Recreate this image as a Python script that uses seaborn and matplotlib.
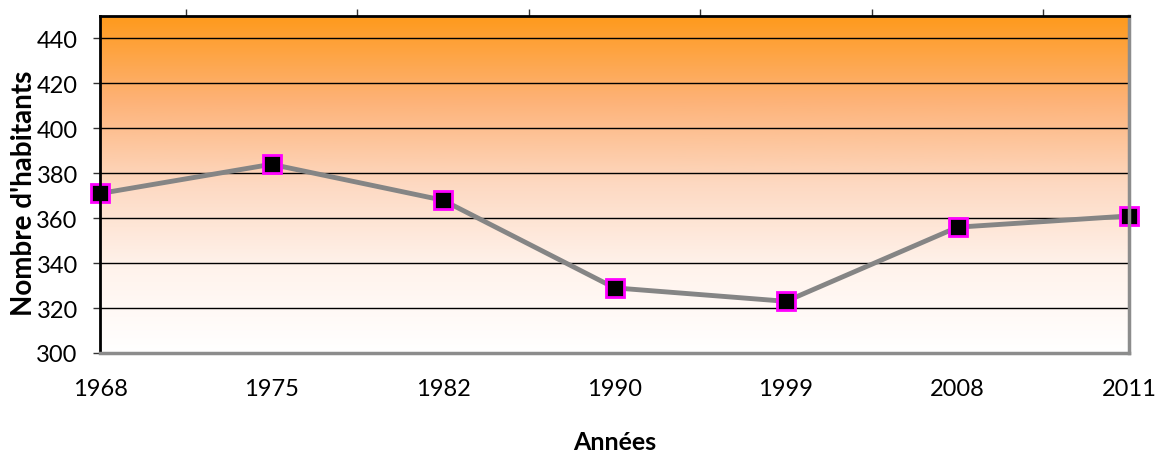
import numpy as np
import pandas as pd
import matplotlib
matplotlib.use("Agg")
import matplotlib.pyplot as plt
from matplotlib.colors import LinearSegmentedColormap
import seaborn as sns

years = ["1968", "1975", "1982", "1990", "1999", "2008", "2011"]
population = [371, 384, 368, 329, 323, 356, 361]
y_ticks = [300, 320, 340, 360, 380, 400, 420, 440]

sns.set_theme(style="white")
plt.rcParams["font.family"] = ["Lato", "DejaVu Sans"]
plt.rcParams["text.color"] = "black"
plt.rcParams["xtick.color"] = "black"
plt.rcParams["ytick.color"] = "black"
plt.rcParams["axes.labelcolor"] = "black"

df = pd.DataFrame({"idx": np.arange(len(years)), "pop": population})

fig = plt.figure(figsize=(11.57, 4.56), dpi=100)
ax = fig.add_axes([100 / 1157, 1 - 354 / 456, 1029 / 1157, 337 / 456])

# vertical orange-to-white background gradient
cmap = LinearSegmentedColormap.from_list(
    "bg", [(0.0, "#FFFFFF"), (0.25, "#FFF3EC"), (0.5, "#FDD9C2"),
           (0.75, "#FDB277"), (1.0, "#FF9A1C")])
grad = np.linspace(0, 1, 256).reshape(-1, 1)
ax.imshow(grad, cmap=cmap, origin="lower", aspect="auto",
          extent=(0, len(years) - 1, 300, 450), zorder=0)

for v in y_ticks[1:]:
    ax.axhline(v, color="black", lw=1.0, zorder=1)

sns.lineplot(data=df, x="idx", y="pop", ax=ax, color="#858585", lw=3.5,
             marker="s", markersize=13, markerfacecolor="black",
             markeredgecolor="#FF00FF", markeredgewidth=2, zorder=3,
             clip_on=False)

ax.set_xlim(0, len(years) - 1)
ax.set_ylim(300, 450)
ax.set_xticks(np.arange(len(years)))
ax.set_xticklabels(years, fontsize=17)
ax.set_yticks(y_ticks)
ax.set_yticklabels([str(v) for v in y_ticks], fontsize=17)
ax.tick_params(axis="x", bottom=False, pad=12)
ax.tick_params(axis="y", left=True, direction="out", length=5, width=1,
               color="#333333", pad=11)

# category-boundary ticks along the top
sec = ax.secondary_xaxis("top")
sec.set_xticks(np.arange(len(years) - 1) + 0.5)
sec.set_xticklabels([])
sec.tick_params(direction="out", length=5, width=1, color="#333333")
sec.spines["top"].set_visible(False)

for side in ["left", "top"]:
    ax.spines[side].set_color("black")
    ax.spines[side].set_linewidth(2)
for side in ["right", "bottom"]:
    ax.spines[side].set_color("#8C8C8C")
    ax.spines[side].set_linewidth(2.5)
for s in ax.spines.values():
    s.set_zorder(4)

ax.set_xlabel("Années", fontsize=18, fontweight="bold", va="center")
ax.set_ylabel("Nombre d'habitants", fontsize=20, fontweight="bold", va="center")
ax.xaxis.set_label_coords(0.5, -0.264)
ax.yaxis.set_label_coords(-0.074, 0.478)

fig.savefig("out.png", dpi=100)
